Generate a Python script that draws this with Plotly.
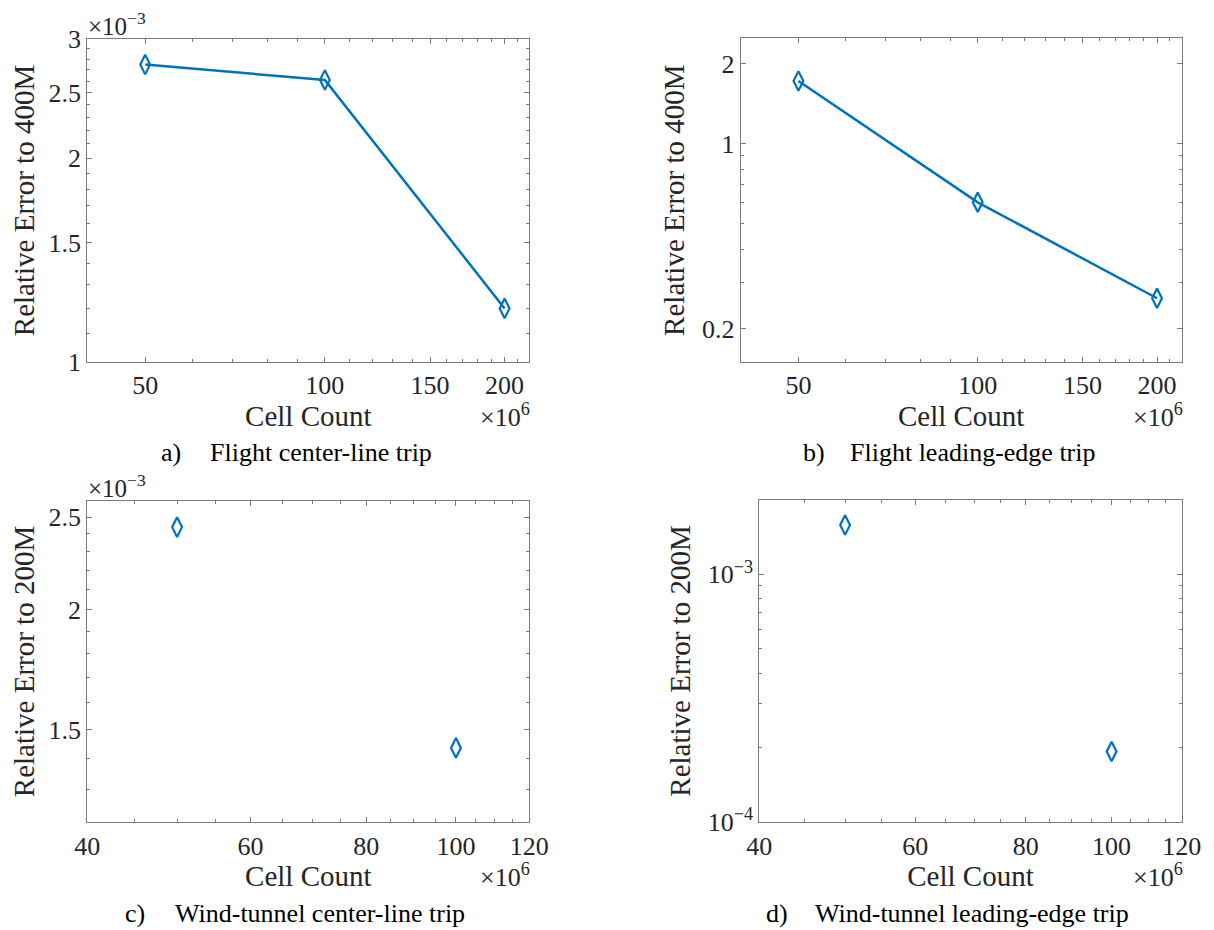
import numpy as np
import plotly.graph_objects as go

# The page body adds an 8px margin, so the figure is drawn at (8, 8)
OFF = 8
W, H = 1214 - OFF, 930 - OFF
FONT = "Liberation Serif, Times New Roman, DejaVu Serif, serif"
AX = "#7a7a7a"
TXT = "#262626"
BLUE = "#0072BD"

# ---------------- data ----------------
cells_flight = [50e6, 100e6, 200e6]
err_flight_centerline = [2.75e-3, 2.61e-3, 1.20e-3]
err_flight_leadingedge = [1.725, 0.601, 0.261]

cells_windtunnel = [50e6, 100e6]
err_wt_centerline = [2.44e-3, 1.435e-3]
err_wt_leadingedge = [1.58e-3, 1.93e-4]

# tick labels
x_ticks_flight = [50e6, 100e6, 150e6, 200e6]
x_ticktext_flight = ["50", "100", "150", "200"]
x_minor_flight = [v * 1e6 for v in [60, 70, 80, 90, 110, 120, 130, 140, 160, 170, 180, 190, 210]]
x_ticks_wt = [40e6, 60e6, 80e6, 100e6, 120e6]
x_ticktext_wt = ["40", "60", "80", "100", "120"]
x_minor_wt = [v * 1e6 for v in [45, 50, 55, 65, 70, 75, 85, 90, 95, 105, 110, 115]]

ya_ticks = [1e-3, 1.5e-3, 2e-3, 2.5e-3, 3e-3]
ya_ticktext = ["1", "1.5", "2", "2.5", "3"]
ya_minor = [v * 1e-3 for v in [1.1, 1.2, 1.3, 1.4, 1.6, 1.7, 1.8, 1.9, 2.1, 2.2, 2.3, 2.4, 2.6, 2.7, 2.8, 2.9]]

yb_ticks = [0.2, 1, 2]
yb_ticktext = ["0.2", "1", "2"]
yb_minor = [0.3, 0.4, 0.5, 0.6, 0.7, 0.8, 0.9]

yc_ticks = [1.5e-3, 2e-3, 2.5e-3]
yc_ticktext = ["1.5", "2", "2.5"]
yc_minor = [v * 1e-3 for v in [1.3, 1.4, 1.6, 1.7, 1.8, 1.9, 2.1, 2.2, 2.3, 2.4]]

yd_ticks = [1e-4, 1e-3]
yd_ticktext = ["10<sup>\u22124</sup>", "10<sup>\u22123</sup>"]
yd_minor = [v * 1e-4 for v in [2, 3, 4, 5, 6, 7, 8, 9, 20]]

captions = [
    ("a)", "Flight center-line trip"),
    ("b)", "Flight leading-edge trip"),
    ("c)", "Wind-tunnel center-line trip"),
    ("d)", "Wind-tunnel leading-edge trip"),
]

# ---------------- layout geometry (window pixels) ----------------
def px_x(p):
    return (p - OFF) / W

def px_y(p):
    return 1 - (p - OFF) / H

dom = {
    "a": ([87.3, 529.3], [39, 362]),
    "b": ([740.7, 1181.7], [38.3, 362]),
    "c": ([87.3, 529.3], [500.7, 822.3]),
    "d": ([759.3, 1181.7], [499.7, 822.3]),
}

fig = go.Figure()

marker = dict(symbol="diamond-tall-open", size=14, color=BLUE, line=dict(color=BLUE, width=2.2))
line = dict(color=BLUE, width=2.5)

fig.add_trace(go.Scatter(x=cells_flight, y=err_flight_centerline, mode="lines+markers",
                         line=line, marker=marker, xaxis="x", yaxis="y", showlegend=False))
fig.add_trace(go.Scatter(x=cells_flight, y=err_flight_leadingedge, mode="lines+markers",
                         line=line, marker=marker, xaxis="x2", yaxis="y2", showlegend=False))
fig.add_trace(go.Scatter(x=cells_windtunnel, y=err_wt_centerline, mode="markers",
                         marker=marker, xaxis="x3", yaxis="y3", showlegend=False))
fig.add_trace(go.Scatter(x=cells_windtunnel, y=err_wt_leadingedge, mode="markers",
                         marker=marker, xaxis="x4", yaxis="y4", showlegend=False))


def axis(domain, anchor, rng, tickvals, ticktext, minorvals, title, standoff):
    return dict(
        type="log", domain=domain, anchor=anchor,
        range=[np.log10(rng[0]), np.log10(rng[1])],
        tickmode="array", tickvals=tickvals, ticktext=ticktext,
        ticks="inside", ticklen=5, tickwidth=1, tickcolor=AX,
        minor=dict(tickmode="array", tickvals=minorvals, ticks="inside", ticklen=3,
                   tickwidth=1, tickcolor=AX, showgrid=False),
        showline=True, linecolor=AX, linewidth=1, mirror="allticks",
        showgrid=False, zeroline=False,
        tickfont=dict(family=FONT, size=26, color=TXT),
        title=dict(text=title, font=dict(family=FONT, size=29, color=TXT), standoff=standoff),
    )


names = ["a", "b", "c", "d"]
xcfg = [
    ([40e6, 220e6], x_ticks_flight, x_ticktext_flight, x_minor_flight),
    ([40e6, 220e6], x_ticks_flight, x_ticktext_flight, x_minor_flight),
    ([40e6, 120e6], x_ticks_wt, x_ticktext_wt, x_minor_wt),
    ([40e6, 120e6], x_ticks_wt, x_ticktext_wt, x_minor_wt),
]
ycfg = [
    ([1e-3, 3e-3], ya_ticks, ya_ticktext, ya_minor, "Relative Error to 400M"),
    ([0.15, 2.5], yb_ticks, yb_ticktext, yb_minor, "Relative Error to 400M"),
    ([1.2e-3, 2.6e-3], yc_ticks, yc_ticktext, yc_minor, "Relative Error to 200M"),
    ([1e-4, 2e-3], yd_ticks, yd_ticktext, yd_minor, "Relative Error to 200M"),
]

layout_axes = {}
for i, n in enumerate(names):
    (x0, x1), (y0, y1) = dom[n]
    xd = [px_x(x0), px_x(x1)]
    yd = [px_y(y1), px_y(y0)]
    sfx = "" if i == 0 else str(i + 1)
    xr, xt, xtt, xm = xcfg[i]
    yr, yt, ytt, ym, yttl = ycfg[i]
    layout_axes["xaxis" + sfx] = axis(xd, "y" + sfx, xr, xt, xtt, xm, "Cell Count", 4)
    layout_axes["yaxis" + sfx] = axis(yd, "x" + sfx, yr, yt, ytt, ym, yttl, 8)

fig.update_layout(**layout_axes)

annotations = []
# exponent labels
for n in ["a", "c"]:
    (x0, x1), (y0, y1) = dom[n]
    annotations.append(dict(text="\u00d710<sup>\u22123</sup>", xref="paper", yref="paper",
                            x=px_x(x0), y=px_y(y0 + 2), xanchor="left", yanchor="bottom",
                            borderpad=0, showarrow=False,
                            font=dict(family=FONT, size=25, color=TXT)))
for n in names:
    (x0, x1), (y0, y1) = dom[n]
    annotations.append(dict(text="\u00d710<sup>6</sup>", xref="paper", yref="paper",
                            x=px_x(x1 + 3), y=px_y(y1 + 72), xanchor="right", yanchor="bottom",
                            showarrow=False, font=dict(family=FONT, size=26, color=TXT)))

# captions
cap_pos = [(159, 207.6, 452), (800.6, 848.1, 452), (122.7, 172.6, 913), (763.7, 813.1, 913)]
for (lab, txt), (xl, xt, yc) in zip(captions, cap_pos):
    annotations.append(dict(text=lab, xref="paper", yref="paper", x=px_x(xl), y=px_y(yc),
                            xanchor="left", yanchor="middle", showarrow=False,
                            font=dict(family=FONT, size=26, color="#000000")))
    annotations.append(dict(text=txt, xref="paper", yref="paper", x=px_x(xt), y=px_y(yc),
                            xanchor="left", yanchor="middle", showarrow=False,
                            font=dict(family=FONT, size=26, color="#000000")))

fig.update_layout(
    template="none",
    width=W, height=H,
    margin=dict(l=0, r=0, t=0, b=0),
    paper_bgcolor="white", plot_bgcolor="white",
    showlegend=False,
    annotations=annotations,
    font=dict(family=FONT, color=TXT),
)

fig.write_html("out.html")
